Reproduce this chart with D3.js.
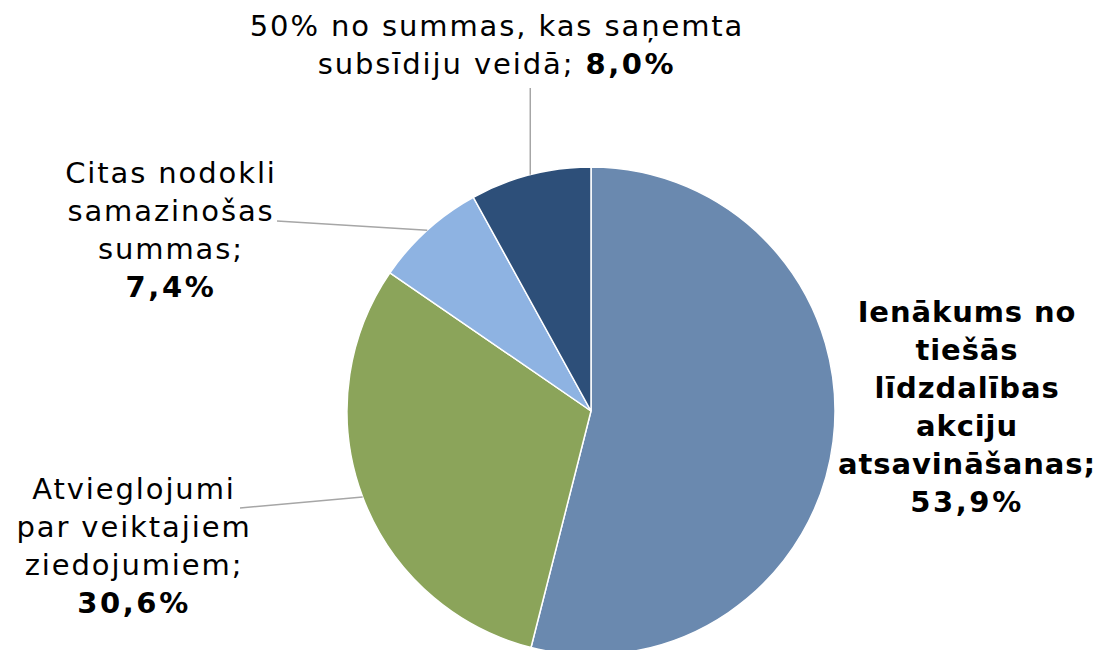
<!DOCTYPE html>
<html><head><meta charset="utf-8">
<script src="https://cdn.jsdelivr.net/npm/d3@7/dist/d3.min.js"></script>
<style>body{margin:0;background:#fff}svg{display:block}</style>
</head><body>
<svg id="c" width="1099" height="650"></svg>
<script>
const categories = [
  "Ienākums no tiešās līdzdalības akciju atsavināšanas",
  "Atvieglojumi par veiktajiem ziedojumiem",
  "Citas nodokli samazinošas summas",
  "50% no summas, kas saņemta subsīdiju veidā"
];
const values = [53.9, 30.6, 7.4, 8.0];
const valueLabels = ["53,9%", "30,6%", "7,4%", "8,0%"];
const colors = ["#6A89AF", "#8BA45A", "#8EB3E2", "#2D4F79"];

// label text lines (plain part + bold value line)
const labelLines = [
  {lines: ["Ienākums no", "tiešās", "līdzdalības", "akciju", "atsavināšanas;"], bold: true},
  {lines: ["Atvieglojumi", "par veiktajiem", "ziedojumiem;"], bold: false},
  {lines: ["Citas nodokli", "samazinošas", "summas;"], bold: false},
  {lines: ["50% no summas, kas saņemta", "subsīdiju veidā; "], bold: false, inline: true}
];

const svg = d3.select("#c");
const cx = 591, cy = 411, r = 244;
const fs = 29, lh = 38;
const font = "DejaVu Sans, Verdana, sans-serif";
const lsNormal = 1.9, lsBold = 0.9, lsValue = 2.6;

const pie = d3.pie().sort(null).value(d => d);
const arcs = pie(values);
const arc = d3.arc().innerRadius(0).outerRadius(r);

const g = svg.append("g").attr("transform", `translate(${cx},${cy})`);
g.selectAll("path").data(arcs).join("path")
  .attr("d", arc)
  .attr("fill", (d, i) => colors[i])
  .attr("stroke", "#fff").attr("stroke-width", 1.5);

// label placement (layout)
const labelPos = [
  {x: 967, y: 322},
  {x: 134, y: 499},
  {x: 171, y: 183},
  {x: 497, y: 36}
];
const leaderStart = [null, [240, 508], [277, 221], ["v", 88]];

function edgePoint(d) {
  const a = (d.startAngle + d.endAngle) / 2;
  return [cx + r * Math.sin(a), cy - r * Math.cos(a)];
}

arcs.forEach((d, i) => {
  const s = leaderStart[i];
  if (!s) return;
  const e = edgePoint(d);
  const p0 = s[0] === "v" ? [e[0], s[1]] : s;
  svg.append("line")
    .attr("x1", p0[0]).attr("y1", p0[1])
    .attr("x2", e[0]).attr("y2", e[1])
    .attr("stroke", "#A6A6A6").attr("stroke-width", 1.5);
});

labelLines.forEach((L, i) => {
  const t = svg.append("text")
    .attr("x", labelPos[i].x).attr("y", labelPos[i].y)
    .attr("text-anchor", "middle")
    .attr("font-family", font).attr("font-size", fs)
    .attr("fill", "#000")
    .attr("font-weight", L.bold ? "bold" : "normal")
    .attr("letter-spacing", L.bold ? lsBold : lsNormal);
  L.lines.forEach((ln, j) => {
    t.append("tspan").attr("x", labelPos[i].x).attr("dy", j === 0 ? 0 : lh).text(ln);
    if (L.inline && j === L.lines.length - 1) {
      t.append("tspan").attr("font-weight", "bold").attr("letter-spacing", lsValue).text(valueLabels[i]);
    }
  });
  if (!L.inline) {
    t.append("tspan").attr("x", labelPos[i].x).attr("dy", lh)
      .attr("font-weight", "bold").attr("letter-spacing", lsValue).text(valueLabels[i]);
  }
});
</script>
</body></html>
